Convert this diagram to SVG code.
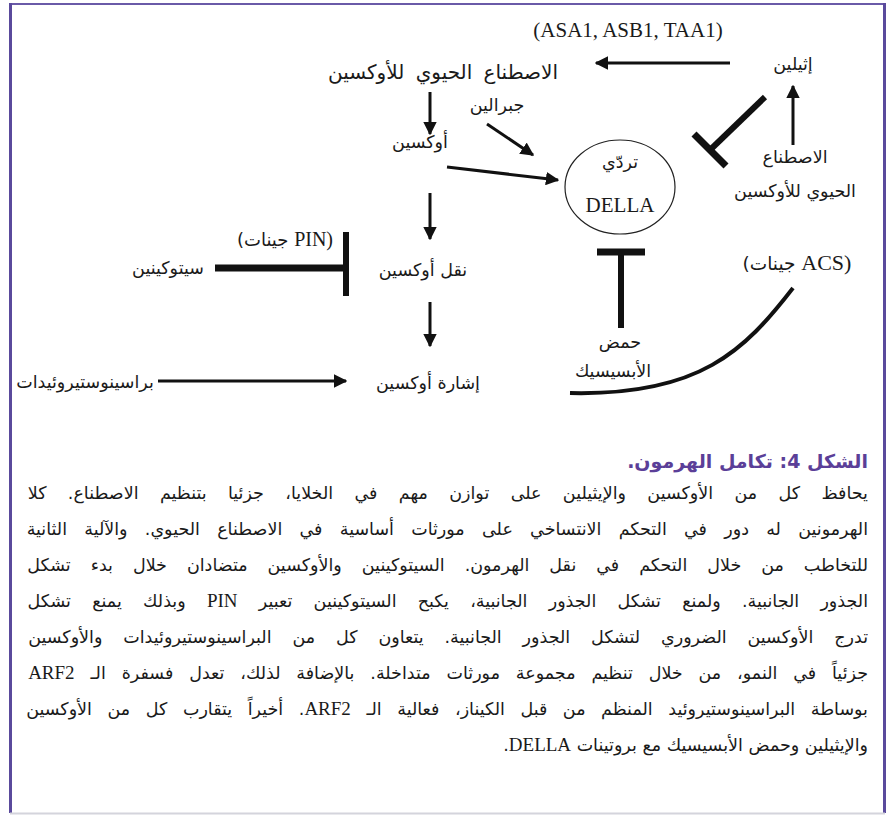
<svg xmlns="http://www.w3.org/2000/svg" width="895" height="816" viewBox="0 0 895 816">
<defs>
<style>
.ar{font-family:"DejaVu Sans",sans-serif;font-size:17.5px;fill:#1a1a1a;}
.lat{font-family:"Liberation Serif",serif;fill:#1a1a1a;}
.body{font-family:"DejaVu Sans",sans-serif;font-size:17.5px;fill:#1a1a1a;}
.title{font-family:"DejaVu Sans",sans-serif;font-size:19px;font-weight:bold;fill:#5b3f98;}
.arr{stroke:#111;stroke-width:3;fill:none;}
.inh{stroke:#111;fill:none;}
</style>
<marker id="ah" viewBox="0 0 10 10" refX="9" refY="5" markerWidth="4.5" markerHeight="4.5" orient="auto" markerUnits="strokeWidth">
<path d="M0,0 L10,5 L0,10 z" fill="#111"/>
</marker>
</defs>
<rect x="0" y="0" width="895" height="816" fill="#fff"/>
<g id="frame">
<line x1="10" y1="4" x2="885" y2="4" stroke="#6a5aa8" stroke-width="2"/>
<line x1="10.5" y1="3" x2="10.5" y2="813" stroke="#5a4a9c" stroke-width="3"/>
<line x1="884.5" y1="3" x2="884.5" y2="813" stroke="#5a4a9c" stroke-width="3"/>
<line x1="10" y1="813.5" x2="885" y2="813.5" stroke="#d4d4dc" stroke-width="2"/>
</g>
<g id="connectors">
<line class="arr" x1="730" y1="63" x2="596" y2="63" marker-end="url(#ah)"/>
<line class="arr" x1="793" y1="145" x2="793" y2="86" marker-end="url(#ah)"/>
<line class="arr" x1="430" y1="92" x2="430" y2="134" marker-end="url(#ah)"/>
<line class="arr" x1="430" y1="193" x2="430" y2="239" marker-end="url(#ah)"/>
<line class="arr" x1="430" y1="302" x2="430" y2="346" marker-end="url(#ah)"/>
<line class="arr" x1="487" y1="124" x2="533" y2="155" marker-end="url(#ah)"/>
<line class="arr" x1="447" y1="167" x2="558" y2="180" marker-end="url(#ah)"/>
<line class="arr" x1="158" y1="381" x2="346" y2="381" marker-end="url(#ah)"/>
<line class="inh" x1="765" y1="97" x2="710" y2="150" stroke-width="6"/>
<line class="inh" x1="694" y1="134" x2="726" y2="166" stroke-width="7"/>
<line class="inh" x1="215" y1="268" x2="345" y2="268" stroke-width="7"/>
<line class="inh" x1="346" y1="232" x2="346" y2="296" stroke-width="6"/>
<line class="inh" x1="621" y1="252" x2="621" y2="328" stroke-width="6"/>
<line class="inh" x1="597" y1="252" x2="645" y2="252" stroke-width="7"/>
<path class="inh" d="M793,288 C745,350 700,396 570,393" stroke-width="4"/>
</g>
<g id="node-asa"><text class="lat" x="628" y="37" font-size="21" text-anchor="middle">(ASA1, ASB1, TAA1)</text></g>
<g id="node-auxin-bio"><text class="ar" x="443" y="79" text-anchor="middle" style="font-size:20px" word-spacing="5">الاصطناع الحيوي للأوكسين</text></g>
<g id="node-ethylene"><text class="ar" x="793" y="70" text-anchor="middle">إثيلين</text></g>
<g id="node-acs">
<text class="ar" x="795" y="163" text-anchor="middle">الاصطناع</text>
<text class="ar" x="795" y="197" text-anchor="middle">الحيوي للأوكسين</text>
<text class="ar" x="797" y="270" text-anchor="middle" direction="ltr" style="font-size:18.5px">(جينات <tspan class="lat" font-size="22">ACS)</tspan></text>
</g>
<g id="node-gibberellin"><text class="ar" x="497" y="111" text-anchor="middle">جبرالين</text></g>
<g id="node-auxin"><text class="ar" x="420" y="148" text-anchor="middle">أوكسين</text></g>
<g id="node-della">
<ellipse cx="620" cy="187" rx="55" ry="47" fill="none" stroke="#222" stroke-width="1.2"/>
<text class="ar" x="620" y="168" text-anchor="middle">تردّي</text>
<text class="lat" x="620" y="212" font-size="21" text-anchor="middle">DELLA</text>
</g>
<g id="node-pin"><text class="ar" x="285" y="246" text-anchor="middle" direction="ltr" style="font-size:18px">(جينات <tspan class="lat" font-size="20">PIN)</tspan></text></g>
<g id="node-cytokinin"><text class="ar" x="168" y="274" text-anchor="middle">سيتوكينين</text></g>
<g id="node-transport"><text class="ar" x="423" y="276" text-anchor="middle">نقل أوكسين</text></g>
<g id="node-brass"><text class="ar" x="85" y="388" text-anchor="middle">براسينوستيروئيدات</text></g>
<g id="node-signal"><text class="ar" x="428" y="389" text-anchor="middle">إشارة أوكسين</text></g>
<g id="node-aba">
<text class="ar" x="620" y="348" text-anchor="middle">حمض</text>
<text class="ar" x="613" y="377" text-anchor="middle">الأبسيسيك</text>
</g>
<g id="caption">
<text class="title" x="868" y="468" direction="rtl" text-anchor="start">الشكل 4: تكامل الهرمون.</text>
<text class="body" x="868" y="499" direction="rtl" text-anchor="start" word-spacing="15.8">يحافظ كل من الأوكسين والإيثيلين على توازن مهم في الخلايا، جزئيا بتنظيم الاصطناع. كلا</text>
<text class="body" x="868" y="535" direction="rtl" text-anchor="start" word-spacing="11.7">الهرمونين له دور في التحكم الانتساخي على مورثات أساسية في الاصطناع الحيوي. والآلية الثانية</text>
<text class="body" x="868" y="571" direction="rtl" text-anchor="start" word-spacing="14.4">للتخاطب من خلال التحكم في نقل الهرمون. السيتوكينين والأوكسين متضادان خلال بدء تشكل</text>
<text class="body" x="868" y="607" direction="rtl" text-anchor="start" word-spacing="15.7">الجذور الجانبية. ولمنع تشكل الجذور الجانبية، يكبح السيتوكينين تعبير <tspan class="lat" font-size="19">PIN</tspan> وبذلك يمنع تشكل</text>
<text class="body" x="868" y="643" direction="rtl" text-anchor="start" word-spacing="15.3">تدرج الأوكسين الضروري لتشكل الجذور الجانبية. يتعاون كل من البراسينوستيروئيدات والأوكسين</text>
<text class="body" x="868" y="679" direction="rtl" text-anchor="start" word-spacing="10.3">جزئياً في النمو، من خلال تنظيم مجموعة مورثات متداخلة. بالإضافة لذلك، تعدل فسفرة الـ <tspan class="lat" font-size="19">ARF2</tspan></text>
<text class="body" x="868" y="715" direction="rtl" text-anchor="start" word-spacing="10">بوساطة البراسينوستيروئيد المنظم من قبل الكيناز، فعالية الـ <tspan class="lat" font-size="19">ARF2</tspan>. أخيراً يتقارب كل من الأوكسين</text>
<text class="body" x="868" y="751" direction="rtl" text-anchor="start">والإيثيلين وحمض الأبسيسيك مع بروتينات <tspan class="lat" font-size="19">DELLA</tspan>.</text>
</g>
</svg>
